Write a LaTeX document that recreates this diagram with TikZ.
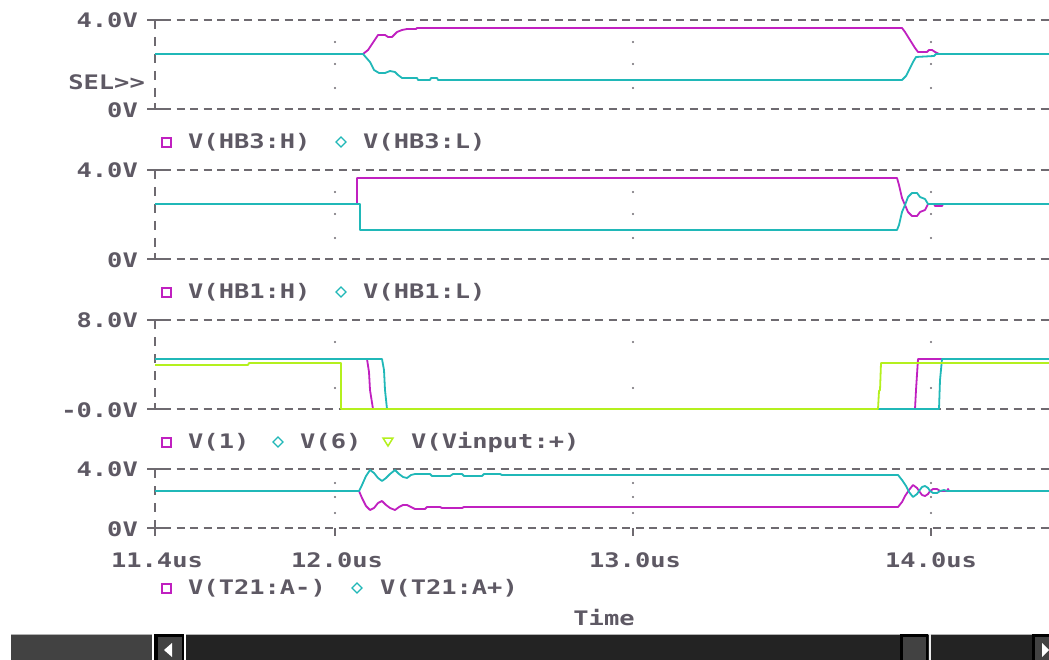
\documentclass[tikz,border=0pt]{standalone}
\usepackage{fontspec}
\newfontfamily\psfont{DejaVu Sans Mono}[FakeStretch=1.27]
\usetikzlibrary{positioning}
\definecolor{psmag}{HTML}{C020C0}
\definecolor{pscyan}{HTML}{20B8B8}
\definecolor{psgreen}{HTML}{B4F01E}
\definecolor{pstext}{HTML}{5E5964}
\definecolor{psgrid}{HTML}{6E6A70}
\definecolor{psbar}{HTML}{424242}
\definecolor{psdither}{HTML}{232323}

\begin{document}
\begin{tikzpicture}[
    x=1pt, y=-1pt,
    axlbl/.style={font={\psfont\bfseries\fontsize{20}{20}\selectfont}, text=pstext, inner sep=0pt},
    leglbl/.style={axlbl, anchor=west},
    hgrid/.style={draw=psgrid, line width=1.6pt, dash pattern=on 8pt off 5.5pt},
    vgrid/.style={draw=psgrid, line width=1.6pt, dash pattern=on 9pt off 8pt},
    tickmark/.style={draw=psgrid, line width=1.6pt},
    magtrace/.style={draw=psmag, line width=1.8pt, line join=round},
    cyntrace/.style={draw=pscyan, line width=1.8pt, line join=round},
    grntrace/.style={draw=psgreen, line width=1.8pt, line join=round},
    every node/.append style={font={\psfont\bfseries\fontsize{20}{20}\selectfont}}
]
    \useasboundingbox (0,0) rectangle (1049,660);
    \fill[white] (0,0) rectangle (1049,660);

    % panel frames
    \foreach \top/\bot in {20/109, 170/259, 320/409, 469/528} {
        \draw[hgrid] (163,\top) -- (1049,\top);
        \draw[hgrid] (163,\bot) -- (1049,\bot);
        \draw[vgrid] (155,\top) -- (155,\bot);
        \draw[tickmark] (147,\top) -- (163,\top) (155,\top) -- (155,\top+6);
        \draw[tickmark] (147,\bot) -- (163,\bot) (155,\bot) -- (155,\bot-6);
    }
    \draw[tickmark] (155,528) -- (155,536);
    \foreach \x in {335, 633, 931}
        \draw[tickmark] (\x,528) -- (\x,536);

    % grid dots
    \foreach \x in {335, 633, 931}
        \foreach \y in {42, 64, 88, 192, 214, 238, 342, 388, 483, 497, 513}
            \fill[psgrid] (\x,\y) circle (1.1pt);

    % y labels
    \node[axlbl, anchor=east] (aTop) at (138,20) {4.0V};
    \node[axlbl, anchor=east] (aSel) at (145,82) {SEL>>};
    \node[axlbl, anchor=east] (aBot) at (138,110) {0V};
    \node[axlbl, anchor=east] (bTop) at (138,170) {4.0V};
    \node[axlbl, anchor=east] (bBot) at (138,260) {0V};
    \node[axlbl, anchor=east] (cTop) at (138,320) {8.0V};
    \node[axlbl, anchor=east] (cBot) at (138,410) {-0.0V};
    \node[axlbl, anchor=east] (dTop) at (138,469) {4.0V};
    \node[axlbl, anchor=east] (dBot) at (138,529) {0V};

    % x labels
    \node[axlbl] (t114) at (157,560) {11.4us};
    \node[axlbl] (t120) at (337,560) {12.0us};
    \node[axlbl] (t130) at (635,560) {13.0us};
    \node[axlbl] (t140) at (931,560) {14.0us};
    \node[axlbl] (xname) at (604,618) {Time};

    % legends
    \draw[psmag, line width=1.5pt] (162,138) rectangle (171,147);
    \node[leglbl] (legAh) at (188,142) {V(HB3:H)};
    \draw[pscyan, line width=1.3pt] (341,137) -- (346,142) -- (341,147) -- (336,142) -- cycle;
    \node[leglbl] (legAl) at (363,142) {V(HB3:L)};

    \draw[psmag, line width=1.5pt] (162,288) rectangle (171,297);
    \node[leglbl] (legBh) at (188,292) {V(HB1:H)};
    \draw[pscyan, line width=1.3pt] (341,287) -- (346,292) -- (341,297) -- (336,292) -- cycle;
    \node[leglbl] (legBl) at (363,292) {V(HB1:L)};

    \draw[psmag, line width=1.5pt] (162,438) rectangle (171,447);
    \node[leglbl] (legC1) at (188,442) {V(1)};
    \draw[pscyan, line width=1.3pt] (278,437) -- (283,442) -- (278,447) -- (273,442) -- cycle;
    \node[leglbl] (legC6) at (300,442) {V(6)};
    \draw[psgreen, line width=1.5pt] (383,438) -- (393,438) -- (388,446) -- cycle;
    \node[leglbl] (legCv) at (411,442) {V(Vinput:+)};

    \draw[psmag, line width=1.5pt] (162,584) rectangle (171,593);
    \node[leglbl] (legDm) at (188,588) {V(T21:A-)};
    \draw[pscyan, line width=1.3pt] (357,583) -- (362,588) -- (357,593) -- (352,588) -- cycle;
    \node[leglbl] (legDp) at (380,588) {V(T21:A+)};

    % panel 1 traces
    \draw[magtrace] (155,54) -- (363,54) -- (368,50) -- (372,44) -- (378,35) -- (385,35) -- (388,37)
        -- (392,37) -- (397,32) -- (402,30) -- (407,29) -- (416,29) -- (417,28) -- (902,28)
        -- (905,32) -- (910,40) -- (915,48) -- (918,52) -- (927,52) -- (929,50) -- (932,50)
        -- (935,52) -- (939,54);
    \draw[cyntrace] (155,54) -- (363,54) -- (370,62) -- (374,70) -- (379,73) -- (385,73) -- (390,71)
        -- (395,72) -- (398,75) -- (402,78) -- (417,78) -- (418,80) -- (430,80) -- (431,78)
        -- (437,78) -- (438,80) -- (902,80) -- (906,76) -- (910,68) -- (913,62) -- (916,57)
        -- (934,56) -- (936,54) -- (1049,54);

    % panel 2 traces
    \draw[magtrace] (155,204) -- (357,204) -- (357,178) -- (897,178) -- (899,185) -- (902,198)
        -- (905,205) -- (908,212) -- (912,216) -- (917,216) -- (920,212) -- (925,210) -- (928,204)
        -- (934,204) -- (935,206) -- (942,206) -- (943,204);
    \draw[cyntrace] (155,204) -- (360,204) -- (360,230) -- (897,230) -- (899,225) -- (902,212)
        -- (905,205) -- (908,197) -- (912,193) -- (917,193) -- (920,197) -- (925,199) -- (928,204)
        -- (1049,204);

    % panel 3 traces
    \draw[magtrace] (155,359) -- (367,359) -- (369,372) -- (370,390) -- (373,409) -- (915,409)
        -- (916,390) -- (918,359) -- (1049,359);
    \draw[cyntrace] (155,359) -- (382,359) -- (384,370) -- (385,390) -- (387,409) -- (939,409)
        -- (940,380) -- (942,359) -- (1049,359);
    \draw[grntrace] (155,365) -- (248,365) -- (249,363) -- (341,363) -- (341,409) -- (878,409)
        -- (879,391) -- (880,390) -- (881,363) -- (1049,363);

    % panel 4 traces
    \draw[magtrace] (359,491) -- (362,498) -- (366,506) -- (370,510) -- (374,508) -- (378,503)
        -- (382,501) -- (386,505) -- (390,508) -- (395,510) -- (399,507) -- (403,505) -- (407,505)
        -- (411,507) -- (415,509) -- (425,509) -- (427,507) -- (440,507) -- (442,508) -- (462,508)
        -- (464,507) -- (898,507) -- (902,502) -- (905,496) -- (909,490) -- (913,485) -- (917,488)
        -- (919,491) -- (922,495) -- (925,496) -- (928,494) -- (930,491) -- (933,489) -- (937,489)
        -- (940,491) -- (947,491) -- (948,489) -- (949,491);
    \draw[cyntrace] (155,491) -- (359,491) -- (362,485) -- (366,476) -- (370,470) -- (374,473)
        -- (378,478) -- (382,481) -- (386,478) -- (390,474) -- (395,470) -- (399,474) -- (403,477)
        -- (407,478) -- (411,475) -- (415,474) -- (430,474) -- (432,476) -- (450,476) -- (453,474)
        -- (462,474) -- (464,476) -- (482,476) -- (484,474) -- (500,474) -- (502,475) -- (898,475)
        -- (902,480) -- (906,486) -- (909,492) -- (913,497) -- (917,494) -- (919,491) -- (922,487)
        -- (925,486) -- (928,488) -- (930,491) -- (933,493) -- (937,493) -- (940,491) -- (944,490)
        -- (947,491) -- (1049,491);

    % scroll bar
    \fill[psbar] (11,634) rectangle (152,660);
    \draw[gray!60, line width=0.8pt] (11,634.4) -- (152,634.4);
    \fill[black] (154,634) rectangle (184,660);
    \fill[psbar] (158,637) rectangle (182,660);
    \fill[white] (164,650) -- (172,643) -- (172,657) -- cycle;
    \fill[psdither] (186,634) rectangle (1032,660);
    \draw[gray!60, line width=0.8pt] (186,634.4) -- (1032,634.4);
    \fill[black] (900,634) rectangle (928,660);
    \fill[psbar] (903,637) rectangle (926,660);
    \fill[white!85!gray] (929,634) rectangle (931,660);
    \fill[black] (1032,634) rectangle (1049,660);
    \fill[psbar] (1035,637) rectangle (1049,660);
    \fill[white] (1049,650) -- (1042,643) -- (1042,657) -- cycle;
\end{tikzpicture}
\end{document}
